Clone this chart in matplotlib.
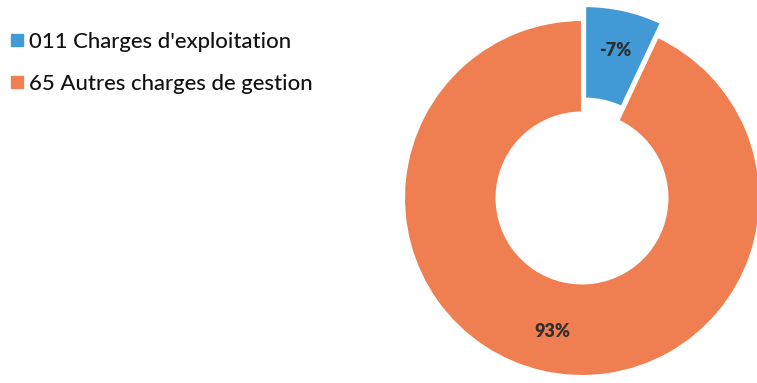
import matplotlib
matplotlib.use("Agg")
import matplotlib.pyplot as plt
from matplotlib.lines import Line2D

categories = ["011 Charges d'exploitation", "65 Autres charges de gestion"]
shares = [7, 93]
labels = ["-7%", "93%"]
colors = ["#4199d6", "#ef7e50"]

plt.rcParams['font.family'] = ['Lato', 'DejaVu Sans']

W, H = 757, 383
fig = plt.figure(figsize=(W / 100, H / 100), dpi=100)

# pie axes placed in pixel terms: centre and outer radius
cx, cy, r = 582, 198, 178
ax = fig.add_axes([(cx - r) / W, (H - cy - r) / H, 2 * r / W, 2 * r / H])
wedges, texts = ax.pie(shares, colors=colors, startangle=90, counterclock=False,
                       explode=[0.08, 0], labels=labels, labeldistance=0.77,
                       wedgeprops=dict(width=0.52, edgecolor='white', linewidth=1.5))
for t in texts:
    t.set_fontsize(13)
    t.set_fontweight('heavy')
    t.set_color('#2e2e2e')
    t.set_ha('center')
    t.set_va('center')
for w in wedges:
    w.set_clip_on(False)
ax.set_xlim(-1, 1)
ax.set_ylim(-1, 1)
ax.set_aspect('auto')

handles = [Line2D([], [], marker='s', linestyle='none', markersize=8,
                  markerfacecolor=c, markeredgecolor=c) for c in colors]
leg = fig.legend(handles, categories, loc='upper left', bbox_to_anchor=(-0.009, 0.958),
                 frameon=False, fontsize=15.9, handletextpad=0.1, labelspacing=1.0,
                 handlelength=0.8, borderaxespad=0.3)
for t in leg.get_texts():
    t.set_color('#111111')
    t.set_fontweight('medium')

fig.savefig('out.png', dpi=100)
